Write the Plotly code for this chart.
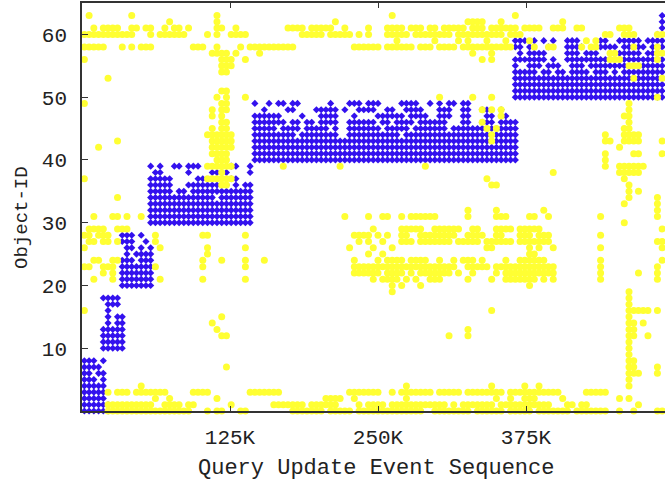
import plotly.graph_objects as go

# Event sequence is binned in blocks of 4K events; each entry lists the bins
# (as single indices or inclusive runs "a-b") in which an object ID was hit.
BIN = 4000

# Yellow series: (object id, occupied bins)
yellow_rows = [
    (63, "1 10 28 65 91"),
    (62, "18 28 53 81-84 88 101"),
    (61, "2 4-7 10-11 13-14 17 19-20 22 28-29 32 43-46 48-52 55 60 64-67 69-71 73-74 76-80 82-84 86-91 93-96 99-101 104-105 113-115"),
    (60, "0-10 14 16-21 26 28 31-34 46-50 52-56 58 60 64-68 70-77 79-88 90-92 110-111 114-116 121-122"),
    (59, "66 74 79 81 85 89 94 106 108"),
    (58, "0-4 8 10 12-14 23-25 28 33 35-44 57-62 64-69 71-73 75-78 80-90 95 98-99 105 107-108 116 121"),
    (57, "27-30 32 37 82 86 111-112 121-122"),
    (56, "0 29-31 34 84 86 111-113 121"),
    (55, "29-31 115-117"),
    (54, "29-30"),
    (53, "5 116 122"),
    (51, "29-30"),
    (50, "28 30 34 75 82 86 121"),
    (49, "0 29-30 115"),
    (48, "27 29-30 84 86 88 115"),
    (47, "27 29 88 114-115"),
    (46, "29-30 84 115"),
    (45, "27 29-30 85 87 114-115"),
    (44, "26-31 86 110 114-117"),
    (43, "7 27-31 86 110-111 114-117 122"),
    (42, "3 27-31 113"),
    (41, "27-30 110 116-117 122"),
    (40, "28-30 110"),
    (39, "26-31 42 54 72 110 113-118"),
    (38, "29 99 113-117"),
    (37, "0 26-31 85 114"),
    (36, "29-30 86-87 115"),
    (35, "115 117"),
    (34, "7 115 121"),
    (33, "114 121"),
    (32, "81 87 97 121"),
    (31, "2 6-7 9 12 55 60 63-64 67 69-74 81 87-89 94-95 98 109 121"),
    (30, "114"),
    (29, "1-4 7-9 61 67-71 74-79 82-83 87-90 92-96 122"),
    (28, "0-1 3-5 15 25-26 34 57-60 62 64 67-68 71-78 81-84 87-88 92-94 96-98 109"),
    (27, "1-2 4-5 7 15 58 60 63 67-69 71-77 79-83 85-90 92-98 121-122"),
    (26, "0 16 26 34 56 61 65 85-86 94 96 99 109 122"),
    (25, "26 60 63 94-95"),
    (24, "2-3 6-7 25 29 34 38 57 62 64-67 69-72 75 78 80-82 84 89 92-97 109 122"),
    (23, "0-1 4-6 15 25 34 57-78 81-85 87-99 109 121"),
    (22, "4 6 57-62 64-67 69 71-77 79 82 87 89-99 109 117 121"),
    (21, "2 6 16 25 34 61 63-66 68 70 73-75 81 86 89-95 97 99 109 121"),
    (20, "65 67 71 94"),
    (19, "65 115"),
    (18, "115"),
    (17, "115"),
    (16, "0 86 115-119 121"),
    (15, "29 115"),
    (14, "27 115-116 118"),
    (13, "28 81 115-116"),
    (12, "29-30 77 81 115-116 119"),
    (11, "115"),
    (10, "115"),
    (9, "115"),
    (8, "115-116"),
    (7, "30 115-116 121"),
    (6, "115-117 121"),
    (5, "115"),
    (4, "12 68 86 93 96 115"),
    (3, "5 7-9 11-17 23-26 35-41 56-62 65 67-73 75-79 81-88 90-100 106-110"),
    (2, "15 18 28 51-54 57 68 87 90 93-95 101 113 115"),
    (1, "5-14 17-20 22-23 31 40-46 48-53 58 60-63 65-76 78 80-86 88-98 102-103 105-106 117"),
    (0, "5-22 26 28-29 33-34 44-50 52-56 58-71 74-81 83-88 90-94 96-102 104-110 113 116 121-122"),
]

# Blue series: (object id, occupied bins)
blue_rows = [
    (63, "122"), (62, "122"), (61, "122"), (60, "121-122"),
    (59, "91-93 95 97 99 102-104 109-110 113-117 119-122"),
    (58, "91-92 94 98 102-105 108-112 114-118 120-122"),
    (57, "92 94-97 102-104 106-108 113-117 119-122"),
    (56, "91-97 99 102-111 113-122"),
    (55, "91 94-96 98-100 103-105 107-114 117-122"),
    (54, "91-95 97-98 100-101 103-106 108-110 112 114-122"),
    (53, "91-122"), (52, "91-122"), (51, "91-122"), (50, "91-122"),
    (49, "36 39 41-42 44-45 52 56-58 60-62 67-70 73 75 77-78 80-81"),
    (48, "38 43-44 49-53 55 58-61 64-65 68-71 75-77 80-81 84-85 88"),
    (47, "36-41 46 50-53 57 62-67 69-72 75-77 80-81 85-86 88-89"),
    (46, "36-42 44-45 47-48 50-53 56-61 63-64 66-69 71-76 80-81 84-86 88-91"),
    (45, "36-40 42-45 47-51 53 56-62 64-68 70-76 78-91"),
    (44, "36-44 46-53 56-66 68-91"),
    (43, "36-91"), (42, "36-91"), (41, "36-91"), (40, "36-91"),
    (39, "14 16 19-20 22-24 31-32 35"),
    (38, "15-16 22 27-30 35"),
    (37, "14-18 24-25 28-29 31-32"),
    (36, "14-18 22-30 32 34-35"),
    (35, "14-18 20-21 23-35"),
    (34, "14-27 29-35"),
    (33, "14-35"), (32, "14-35"), (31, "14-35"), (30, "14-35"),
    (28, "8-10 12"),
    (27, "8-10 13"),
    (26, "9-10 12 14"),
    (25, "9 11-14"),
    (24, "8-10 12-14"),
    (23, "8-14"), (22, "8-14"), (21, "8-14"), (20, "8-14"),
    (18, "4-7"), (17, "5-7"), (16, "5"), (15, "5 7-8"), (14, "5 7-8"),
    (13, "4-8"), (12, "4-8"), (11, "4-8"), (10, "4-8"),
    (8, "0-2 4"), (7, "0-3"), (6, "0-1 3-4"), (5, "0-2 4"),
    (4, "0-4"), (3, "0-4"), (2, "0-4"), (1, "0-5"), (0, "0-5"),
]

x_tick_vals = [125000, 250000, 375000]
x_tick_text = ["125K", "250K", "375K"]
y_tick_vals = [10, 20, 30, 40, 50, 60]


def expand(spec):
    bins = []
    for tok in spec.split():
        if "-" in tok:
            a, b = (int(v) for v in tok.split("-"))
            bins.extend(range(a, b + 1))
        else:
            bins.append(int(tok))
    return bins


def to_points(rows):
    xs, ys = [], []
    for oid, spec in rows:
        for b in expand(spec):
            xs.append((b + 0.5) * BIN)
            ys.append(oid)
    return xs, ys


bx, by = to_points(blue_rows)
yx, yy = to_points(yellow_rows)

MONO = "Liberation Mono, Courier New, monospace"
INK = "#222222"

fig = go.Figure()
fig.add_trace(go.Scatter(
    x=bx, y=by, mode="markers", cliponaxis=False, showlegend=False,
    marker=dict(symbol="diamond", size=5.5, color="#3311ee", line=dict(width=0)),
))
fig.add_trace(go.Scatter(
    x=yx, y=yy, mode="markers", cliponaxis=False, showlegend=False,
    marker=dict(symbol="circle", size=7, color="#ffff33", line=dict(width=0)),
))

fig.update_layout(
    width=665, height=482,
    margin=dict(l=82, r=0, t=3, b=71),
    plot_bgcolor="white", paper_bgcolor="white",
    font=dict(family=MONO, color=INK),
    annotations=[
        dict(text="Query Update Event Sequence", xref="paper", yref="paper",
             x=0.504, y=-0.14, xanchor="center", yanchor="middle",
             showarrow=False, font=dict(family=MONO, size=22, color=INK)),
        dict(text="Object-ID", xref="paper", yref="paper",
             x=-0.103, y=0.4755, xanchor="center", yanchor="middle", textangle=-90,
             showarrow=False, font=dict(family=MONO, size=19, color=INK)),
    ],
)
fig.update_xaxes(
    range=[0, 492400], tickvals=x_tick_vals, ticktext=x_tick_text,
    ticks="inside", ticklen=5, tickcolor="#333", mirror="ticks",
    showline=True, linecolor="#333", linewidth=1.5,
    showgrid=False, zeroline=False, ticklabelstandoff=6,
    tickfont=dict(family=MONO, size=21, color=INK),
)
fig.update_yaxes(
    range=[0, 65], tickvals=y_tick_vals,
    ticks="inside", ticklen=6, tickcolor="#333",
    showline=True, linecolor="#333", linewidth=1.5,
    showgrid=False, zeroline=False, ticklabelstandoff=9,
    tickfont=dict(family=MONO, size=21, color=INK),
)

fig.write_html("out.html")
